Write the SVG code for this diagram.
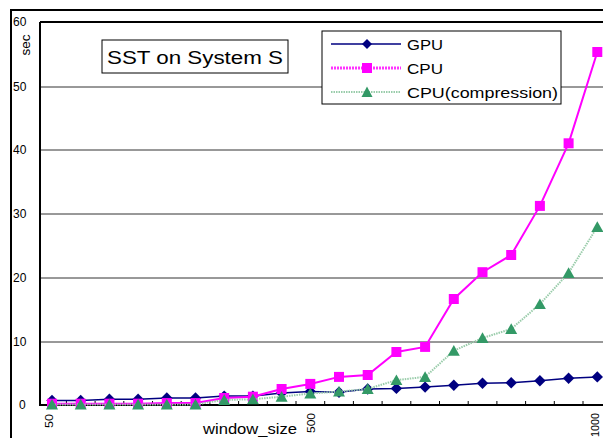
<svg xmlns="http://www.w3.org/2000/svg" width="603" height="438" viewBox="0 0 603 438">
  <style>
    text { font-family: "Liberation Sans", Arial, sans-serif; fill: #000; }
    .grid { stroke: #333; stroke-width: 1; }
    .axis { stroke: #000; stroke-width: 2; fill: none; }
    .tick { stroke: #000; stroke-width: 1; }
    .ylab { font-size: 12px; }
    .xlab { font-size: 11.5px; }
    .leg { font-size: 15.5px; }
    .gpu { fill: none; stroke: #000080; stroke-width: 1.5; }
    .cpu { fill: none; stroke: #ff00ff; stroke-width: 2; }
    .cmp { fill: none; stroke: #99ccaa; stroke-width: 2; stroke-dasharray: 1.5 1; }
  </style>
  <defs>
    <marker id="mk-diamond" markerUnits="userSpaceOnUse" markerWidth="12" markerHeight="12" refX="6" refY="6" overflow="visible">
      <polygon points="6,0.3 11.7,6 6,11.7 0.3,6" fill="#000080"/>
    </marker>
    <marker id="mk-square" markerUnits="userSpaceOnUse" markerWidth="12" markerHeight="12" refX="6" refY="6" overflow="visible">
      <rect x="1" y="1" width="10" height="10" fill="#ff00ff"/>
    </marker>
    <marker id="mk-triangle" markerUnits="userSpaceOnUse" markerWidth="12" markerHeight="12" refX="6" refY="6" overflow="visible">
      <polygon points="6,0.3 12,11 0,11" fill="#339966"/>
    </marker>
  </defs>

  <!-- chart frame -->
  <rect x="11" y="10" width="600" height="440" fill="#fff" stroke="#000" stroke-width="2"/>

  <!-- horizontal gridlines -->
  <g id="gridlines">
    <line class="grid" x1="40" y1="342" x2="603" y2="342"/>
    <line class="grid" x1="40" y1="278" x2="603" y2="278"/>
    <line class="grid" x1="40" y1="214" x2="603" y2="214"/>
    <line class="grid" x1="40" y1="150" x2="603" y2="150"/>
    <line class="grid" x1="40" y1="87" x2="603" y2="87"/>
    <line x1="40" y1="22" x2="603" y2="22" stroke="#000" stroke-width="2"/>
  </g>

  <!-- axes -->
  <g id="axes">
    <polyline class="axis" points="40,22 40,405 603,405"/>
    <g class="tick">
      <line x1="66.4" y1="401" x2="66.4" y2="405"/>
      <line x1="95.1" y1="401" x2="95.1" y2="405"/>
      <line x1="123.8" y1="401" x2="123.8" y2="405"/>
      <line x1="152.5" y1="401" x2="152.5" y2="405"/>
      <line x1="181.2" y1="401" x2="181.2" y2="405"/>
      <line x1="209.9" y1="401" x2="209.9" y2="405"/>
      <line x1="238.6" y1="401" x2="238.6" y2="405"/>
      <line x1="267.3" y1="401" x2="267.3" y2="405"/>
      <line x1="296" y1="401" x2="296" y2="405"/>
      <line x1="324.7" y1="401" x2="324.7" y2="405"/>
      <line x1="353.4" y1="401" x2="353.4" y2="405"/>
      <line x1="382.1" y1="401" x2="382.1" y2="405"/>
      <line x1="410.8" y1="401" x2="410.8" y2="405"/>
      <line x1="439.5" y1="401" x2="439.5" y2="405"/>
      <line x1="468.2" y1="401" x2="468.2" y2="405"/>
      <line x1="496.9" y1="401" x2="496.9" y2="405"/>
      <line x1="525.6" y1="401" x2="525.6" y2="405"/>
      <line x1="554.3" y1="401" x2="554.3" y2="405"/>
      <line x1="583" y1="401" x2="583" y2="405"/>
    </g>
    <g class="ylab">
      <text x="13" y="26">60</text>
      <text x="13" y="91">50</text>
      <text x="13" y="154">40</text>
      <text x="13" y="218">30</text>
      <text x="13" y="282">20</text>
      <text x="13" y="346">10</text>
      <text x="19" y="409">0</text>
    </g>
    <text transform="translate(30,45) rotate(-90)" text-anchor="middle" font-size="13.5">sec</text>
    <g class="xlab">
      <text transform="translate(53,428) rotate(-90)" textLength="14" lengthAdjust="spacingAndGlyphs">50</text>
      <text transform="translate(315,433) rotate(-90)" textLength="20" lengthAdjust="spacingAndGlyphs">500</text>
      <text transform="translate(599,437) rotate(-90)" textLength="24" lengthAdjust="spacingAndGlyphs">1000</text>
    </g>
    <text x="203" y="434" font-size="14" textLength="94" lengthAdjust="spacingAndGlyphs">window_size</text>
  </g>

  <!-- data series -->
  <g id="connectors">
    <polyline id="series-gpu" class="gpu" marker-start="url(#mk-diamond)" marker-mid="url(#mk-diamond)" marker-end="url(#mk-diamond)"
      points="52,400.5 80.7,400.5 109.4,399.3 138.1,399.3 166.8,398 195.5,398 224.2,396.1 252.9,396.1 281.6,392.9 310.3,391.6 339,392.2 367.7,389 396.4,388.4 425.1,387.1 453.8,385.2 482.5,383.3 511.2,382.7 539.9,380.7 568.6,378.2 597.3,376.9"/>
    <polyline id="series-cpu" class="cpu" marker-start="url(#mk-square)" marker-mid="url(#mk-square)" marker-end="url(#mk-square)"
      points="52,403.7 80.7,403.7 109.4,403.7 138.1,403.7 166.8,403.1 195.5,403.1 224.2,398 252.9,396.7 281.6,389 310.3,383.9 339,376.9 367.7,375 396.4,352 425.1,346.9 453.8,299 482.5,272.2 511.2,255 539.9,205.9 568.6,143.3 597.3,52"/>
    <polyline id="series-cmp" class="cmp" marker-start="url(#mk-triangle)" marker-mid="url(#mk-triangle)" marker-end="url(#mk-triangle)"
      points="52,404.4 80.7,404.4 109.4,404.4 138.1,404.4 166.8,404.4 195.5,404.4 224.2,399.9 252.9,399.3 281.6,396.7 310.3,393.5 339,391.6 367.7,389 396.4,380.1 425.1,376.9 453.8,350.7 482.5,338 511.2,329 539.9,304.1 568.6,272.9 597.3,226.9"/>
  </g>

  <!-- title box -->
  <g id="title">
    <rect x="102" y="40" width="186" height="33" fill="#fff" stroke="#000" stroke-width="1"/>
    <text x="107" y="64" font-size="18" textLength="176" lengthAdjust="spacingAndGlyphs">SST on System S</text>
  </g>

  <!-- legend -->
  <g id="legend">
    <rect x="322" y="31" width="239" height="73" fill="#fff" stroke="#000" stroke-width="1"/>
    <line class="gpu" x1="331" y1="44" x2="401" y2="44"/>
    <polygon points="367,39 372,44 367,49 362,44" fill="#000080"/>
    <text class="leg" x="407" y="49.5" textLength="36" lengthAdjust="spacingAndGlyphs">GPU</text>
    <line x1="331" y1="68" x2="401" y2="68" stroke="#ff00ff" stroke-width="3" stroke-dasharray="2 1" stroke-opacity="0.8"/>
    <rect x="362" y="63" width="10" height="10" fill="#ff00ff"/>
    <text class="leg" x="407" y="73.5" textLength="36" lengthAdjust="spacingAndGlyphs">CPU</text>
    <line x1="331" y1="92" x2="401" y2="92" stroke="#99ccaa" stroke-width="2" stroke-dasharray="1.5 1"/>
    <polygon points="367,86.5 372.5,97 361.5,97" fill="#339966"/>
    <text class="leg" x="407" y="97.5" textLength="151" lengthAdjust="spacingAndGlyphs">CPU(compression)</text>
  </g>
</svg>
